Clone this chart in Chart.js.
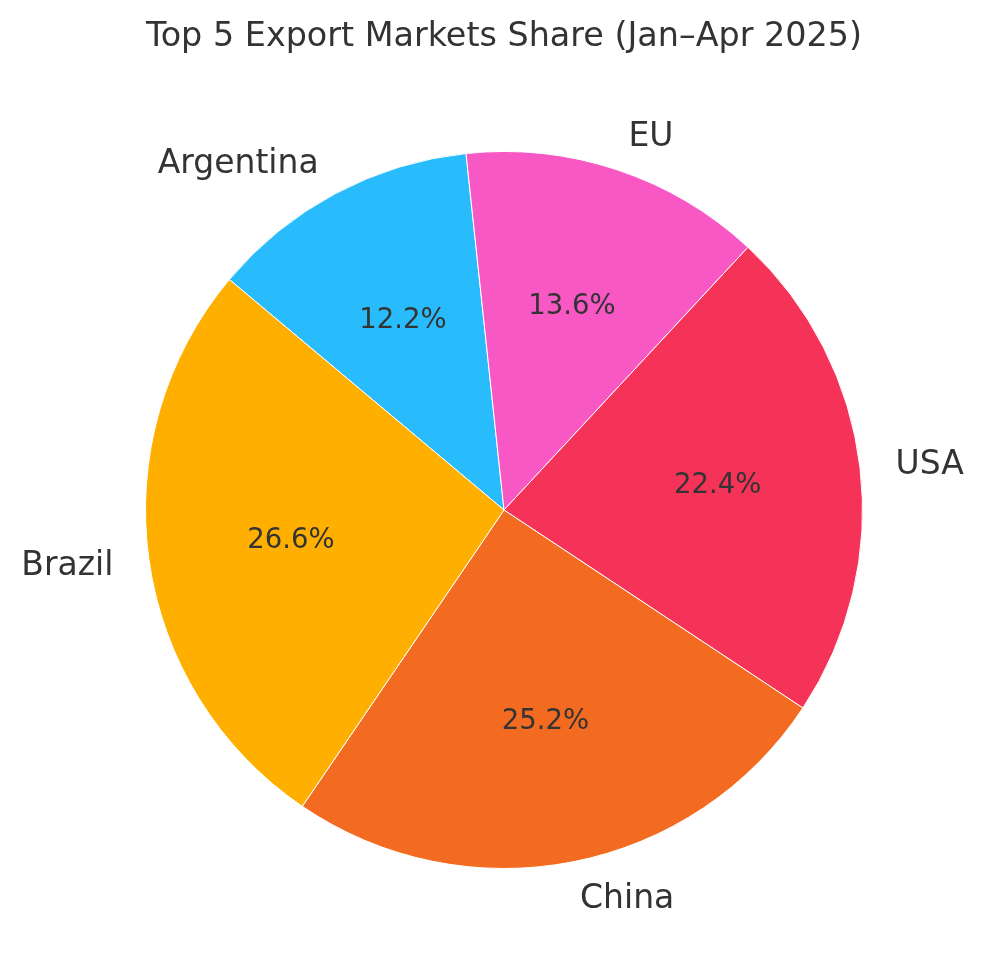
<!DOCTYPE html>
<html>
<head>
<meta charset="utf-8">
<script src="https://cdn.jsdelivr.net/npm/chart.js@4"></script>
<style>
  html, body { margin: 0; padding: 0; background: #fff; }
  #wrap { width: 985px; height: 980px; position: relative; }
</style>
</head>
<body>
<div id="wrap"><canvas id="pie"></canvas></div>
<script>
// Top 5 export markets, Jan–Apr 2025 (share in %)
// drawn clockwise, so the order is reversed from the legend order
const markets = ["Argentina", "EU", "USA", "China", "Brazil"];
const shares = [12.2, 13.6, 22.4, 25.2, 26.6];
const colors = ["#29BCFD", "#F858C4", "#F53257", "#F26B21", "#FFAF00"];
const TITLE = "Top 5 Export Markets Share (Jan–Apr 2025)";

const FONT = "'DejaVu Sans', sans-serif";
const TEXT = "#333333";

// labels outside (1.1 r) and percentages inside (0.6 r), like matplotlib's autopct
const pieText = {
  id: "pieText",
  afterDraw(chart) {
    const ctx = chart.ctx;
    ctx.save();
    ctx.fillStyle = TEXT;
    ctx.textBaseline = "middle";

    ctx.font = "33.4px " + FONT;
    ctx.textAlign = "center";
    ctx.fillText(TITLE, 504, 37);

    chart.getDatasetMeta(0).data.forEach((arc, i) => {
      const mid = (arc.startAngle + arc.endAngle) / 2;
      const r = arc.outerRadius;
      const cx = Math.cos(mid), cy = Math.sin(mid);

      ctx.font = "33px " + FONT;
      ctx.textAlign = cx > 0 ? "left" : "right";
      ctx.fillText(markets[i], arc.x + cx * r * 1.1, arc.y + cy * r * 1.1 + 2);

      ctx.font = "27.5px " + FONT;
      ctx.textAlign = "center";
      ctx.fillText(shares[i].toFixed(1) + "%", arc.x + cx * r * 0.6, arc.y + cy * r * 0.6 + 1);
    });
    ctx.restore();
  }
};

new Chart(document.getElementById("pie"), {
  type: "pie",
  data: {
    labels: markets,
    datasets: [{
      data: shares,
      backgroundColor: colors,
      borderColor: "#ffffff",
      borderWidth: 1,
    }]
  },
  options: {
    responsive: true,
    maintainAspectRatio: false,
    animation: false,
    rotation: -50,
    layout: { padding: { left: 145, right: 122, top: 151, bottom: 111 } },
    plugins: {
      legend: { display: false },
      tooltip: { enabled: false },
      title: { display: false },
    },
  },
  plugins: [pieText],
});
</script>
</body>
</html>
